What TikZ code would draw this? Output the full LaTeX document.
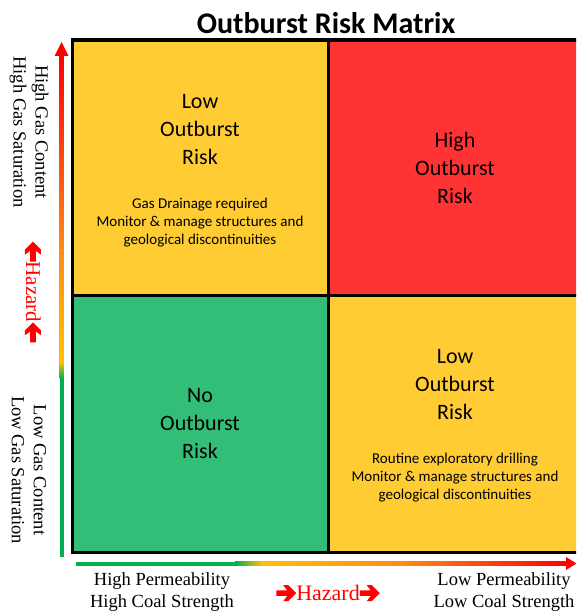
\documentclass[tikz,border=0pt]{standalone}
\usepackage{fontspec}
\setmainfont{Carlito}
\newfontfamily\axisfont{Liberation Serif}
\usetikzlibrary{arrows.meta, positioning}

\definecolor{riskyellow}{RGB}{255,204,51}
\definecolor{riskred}{RGB}{255,51,51}
\definecolor{riskgreen}{RGB}{50,190,118}
\definecolor{axgreen}{RGB}{0,176,80}
\definecolor{axyellow}{RGB}{255,192,0}
\definecolor{axorange}{RGB}{255,140,20}
\definecolor{axred}{RGB}{255,0,0}

% heavy arrow used beside the word Hazard
\newsavebox{\hzbox}
\newcommand{\hzpt}[2]{\pgfpathlineto{\pgfpoint{#1pt}{#2pt}}}
\sbox{\hzbox}{\begin{pgfpicture}
  \pgfsetbaseline{-7pt}
  \pgfsetfillcolor{axred}
  \pgfpathmoveto{\pgfpoint{0pt}{2.8pt}}
  \hzpt{11}{2.8}\hzpt{7}{8}\hzpt{12}{8}\hzpt{20}{0}\hzpt{12}{-8}
  \hzpt{7}{-8}\hzpt{11}{-2.8}\hzpt{0}{-2.8}
  \pgfpathclose
  \pgfusepath{fill}
\end{pgfpicture}}
\newcommand{\hzright}{\usebox{\hzbox}}
\newcommand{\hzleft}{\rotatebox[origin=c]{180}{\usebox{\hzbox}}}

\begin{document}
\begin{tikzpicture}[
  x=1pt, y=-1pt,
  every node/.style={inner sep=0pt},
  title/.style={font=\fontsize{30}{34}\selectfont\bfseries},
  big/.style={align=center, font=\fontsize{22}{28}\selectfont},
  small/.style={align=center, font=\fontsize{15}{18}\selectfont},
  axis/.style={align=center, font=\axisfont\fontsize{18.5}{22}\selectfont},
  hazard/.style={text=axred, font=\axisfont\fontsize{#1}{22}\selectfont},
  gridline/.style={line width=3.5pt},
]
\useasboundingbox (0,0) rectangle (576,615);
\clip (0,0) rectangle (576,615);

% Quadrants
\fill[riskyellow] (72.5,40) rectangle (328.5,295.5);
\fill[riskred] (328.5,40) rectangle (600,295.5);
\fill[riskgreen] (72.5,295.5) rectangle (328.5,552.5);
\fill[riskyellow] (328.5,295.5) rectangle (600,552.5);
\draw[gridline] (72.5,40) rectangle (600,552.5);
\draw[gridline] (328.5,40) -- (328.5,552.5);
\draw[gridline] (72.5,295.5) -- (600,295.5);

% Title
\node[title] (title) at (326,23) {Outburst Risk Matrix};

% Quadrant texts
\node[big] (tlrisk) at (200,130) {Low\\Outburst\\Risk};
\node[small, below=33pt of tlrisk] (tlnote) {Gas Drainage required\\Monitor \& manage structures and\\geological discontinuities};
\node[big] (trrisk) at (455,168) {High\\Outburst\\Risk};
\node[big] (blrisk) at (200,424) {No\\Outburst\\Risk};
\node[big] (brrisk) at (455,385) {Low\\Outburst\\Risk};
\node[small, below=33pt of brrisk] (brnote) {Routine exploratory drilling\\Monitor \& manage structures and\\geological discontinuities};

% Vertical hazard axis
\fill[axgreen] (59.5,557) rectangle (63.5,378);
\shade[bottom color=axgreen, top color=axyellow] (59.5,378) rectangle (63.5,362);
\shade[bottom color=axyellow, top color=axorange] (59.5,362) rectangle (63.5,250);
\shade[bottom color=axorange, top color=axred] (59.5,250) rectangle (63.5,55);
\fill[axred] (54.5,56) -- (68.5,56) -- (61.5,42) -- cycle;

% Horizontal hazard axis
\fill[axgreen] (76,561.5) rectangle (235,565.5);
\shade[left color=axgreen, right color=axyellow] (235,561.5) rectangle (262,565.5);
\shade[left color=axyellow, right color=axorange] (262,561.5) rectangle (400,565.5);
\shade[left color=axorange, right color=axred] (400,561.5) rectangle (567,565.5);
\fill[axred] (566,557) -- (566,570) -- (576.5,563.5) -- cycle;

% Axis labels
\node[axis, rotate=-90] (highgas) at (29,132) {High Gas Content\\High Gas Saturation};
\node[hazard=21, rotate=-90] (vhazard) at (33,292) {\hzleft Hazard\hzleft};
\node[axis, rotate=-90] (lowgas) at (29,470) {Low Gas Content\\Low Gas Saturation};
\node[axis] (highperm) at (162,592) {High Permeability\\High Coal Strength};
\node[hazard=22] (hhazard) at (328,593) {\hzright Hazard\hzright};
\node[axis] (lowperm) at (504,592) {Low Permeability\\Low Coal Strength};
\end{tikzpicture}
\end{document}
